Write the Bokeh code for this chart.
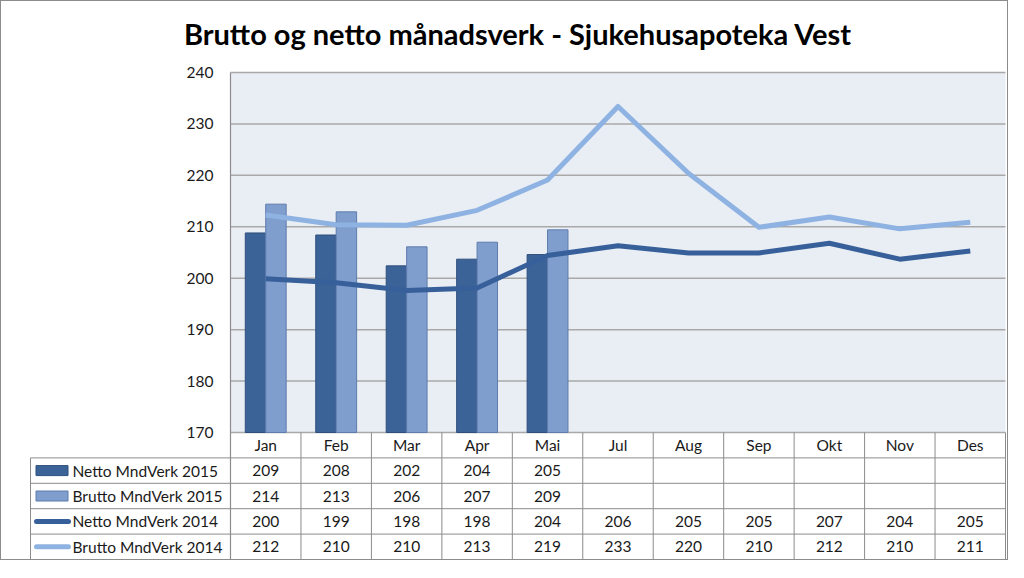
from bokeh.plotting import figure
from bokeh.models import Range1d
from bokeh.embed import file_html
from bokeh.resources import INLINE
from bokeh.core.properties import value

# ---------------- data ----------------
categories = ["Jan", "Feb", "Mar", "Apr", "Mai", "Jul", "Aug", "Sep", "Okt", "Nov", "Des"]
netto_2015 = [208.8, 208.4, 202.4, 203.7, 204.6]
brutto_2015 = [214.4, 212.9, 206.1, 207.0, 209.4]
netto_2014 = [199.9, 199.1, 197.6, 198.1, 204.4, 206.3, 204.9, 204.9, 206.8, 203.7, 205.3]
brutto_2014 = [212.3, 210.4, 210.3, 213.2, 219.1, 233.4, 220.4, 209.9, 211.9, 209.6, 210.9]
series_names = ["Netto MndVerk 2015", "Brutto MndVerk 2015", "Netto MndVerk 2014", "Brutto MndVerk 2014"]
y_ticks = [170, 180, 190, 200, 210, 220, 230, 240]
title_text = "Brutto og netto månadsverk - Sjukehusapoteka Vest"

# ---------------- style ----------------
FONT = "Lato"
C_NETTO_BAR = "#3C6398"
C_NETTO_BAR_LINE = "#2E4E7C"
C_BRUTTO_BAR = "#7F9DCD"
C_BRUTTO_BAR_LINE = "#5E7CAD"
C_NETTO_LINE = "#37609A"
C_BRUTTO_LINE = "#8EB3E2"
PLOT_BG = "#E9EDF4"
GRID = "#A9A9A9"
TABLE_LINE = "#8C8C8C"
TXT = "#1A1A1A"
FS = "15.5px"

W, H = 1008, 560
n = len(categories)
YMIN, YMAX = y_ticks[0], y_ticks[-1]
U = 775 / n                    # px per category
PX = 360 / (YMAX - YMIN)       # px per value unit
ROW = 25.4 / PX                # table row height in value units
LEG = 200 / U                  # legend column width in category units
TBOT = YMIN - 5 * ROW          # bottom of the data table
PADX = 2 / U

p = figure(width=W, height=H, output_backend="svg", toolbar_location=None,
           x_range=Range1d(-LEG - PADX, n + PADX),
           y_range=Range1d(TBOT - 1 / PX, YMAX + 10 / PX),
           min_border_left=27, min_border_right=2, min_border_top=61, min_border_bottom=1)
p.axis.visible = False
p.grid.visible = False
p.outline_line_color = None
p.background_fill_color = "white"
p.border_fill_color = "white"

p.title.text = title_text
p.title.text_font = FONT
p.title.text_font_size = "29px"
p.title.text_font_style = "bold"
p.title.text_color = "black"
p.title.align = "center"
p.title.standoff = 24

# plot area background
p.quad(left=[0], right=[n], bottom=[YMIN], top=[YMAX], fill_color=PLOT_BG, line_color=None)

# horizontal value grid
p.segment(x0=[0] * len(y_ticks), y0=y_ticks, x1=[n] * len(y_ticks), y1=y_ticks,
          line_color=GRID, line_width=1.5)
# value-axis tick labels
p.text(x=[-17 / U] * len(y_ticks), y=y_ticks, text=[str(v) for v in y_ticks],
       text_align="right", text_baseline="middle",
       text_font=value(FONT), text_font_size=value(FS), text_color=TXT)

x_cent = [i + 0.5 for i in range(n)]
OFF, BW = 0.145, 0.29
p.vbar(x=[x - OFF for x in x_cent[:len(netto_2015)]], top=netto_2015, bottom=YMIN, width=BW,
       fill_color=C_NETTO_BAR, line_color=C_NETTO_BAR_LINE, line_width=1)
p.vbar(x=[x + OFF for x in x_cent[:len(brutto_2015)]], top=brutto_2015, bottom=YMIN, width=BW,
       fill_color=C_BRUTTO_BAR, line_color=C_BRUTTO_BAR_LINE, line_width=1)
p.line(x=x_cent, y=netto_2014, line_color=C_NETTO_LINE, line_width=5, line_join="round")
p.line(x=x_cent, y=brutto_2014, line_color=C_BRUTTO_LINE, line_width=5, line_join="round")

# ---------------- data table ----------------
row_lines = [YMIN - k * ROW for k in range(1, 6)]
p.segment(x0=[-LEG] * 5, y0=row_lines, x1=[n] * 5, y1=row_lines, line_color=TABLE_LINE, line_width=1)
p.segment(x0=list(range(1, n + 1)), y0=[YMIN] * n, x1=list(range(1, n + 1)), y1=[TBOT] * n,
          line_color=TABLE_LINE, line_width=1)
p.segment(x0=[-LEG], y0=[YMIN - ROW], x1=[-LEG], y1=[TBOT], line_color=TABLE_LINE, line_width=1)
# value axis line (continues through the table)
p.segment(x0=[0], y0=[YMAX], x1=[0], y1=[TBOT], line_color=TABLE_LINE, line_width=1.2)

# header (category labels)
p.text(x=x_cent, y=[YMIN - 0.5 * ROW] * n, text=categories, text_align="center", text_baseline="middle",
       text_font=value(FONT), text_font_size=value(FS), text_color=TXT)

all_series = [netto_2015, brutto_2015, netto_2014, brutto_2014]
for r, vals in enumerate(all_series, start=1):
    p.text(x=x_cent[:len(vals)], y=[YMIN - (r + 0.5) * ROW] * len(vals),
           text=[f"{round(v)}" for v in vals],
           text_align="center", text_baseline="middle",
           text_font=value(FONT), text_font_size=value(FS), text_color=TXT)

# legend keys
row_mid = [YMIN - (r + 0.5) * ROW for r in range(1, 5)]
key_x = -LEG + 21.5 / U
p.rect(x=[key_x], y=[row_mid[0]], width=32, height=10, width_units="screen", height_units="screen",
       fill_color=C_NETTO_BAR, line_color=C_NETTO_BAR_LINE)
p.rect(x=[key_x], y=[row_mid[1]], width=32, height=10, width_units="screen", height_units="screen",
       fill_color=C_BRUTTO_BAR, line_color=C_BRUTTO_BAR_LINE)
p.segment(x0=[-LEG + 6 / U], y0=[row_mid[2]], x1=[-LEG + 38 / U], y1=[row_mid[2]],
          line_color=C_NETTO_LINE, line_width=5, line_cap="round")
p.segment(x0=[-LEG + 6 / U], y0=[row_mid[3]], x1=[-LEG + 38 / U], y1=[row_mid[3]],
          line_color=C_BRUTTO_LINE, line_width=5, line_cap="round")
p.text(x=[-LEG + 42 / U] * 4, y=row_mid, text=series_names,
       text_align="left", text_baseline="middle",
       text_font=value(FONT), text_font_size=value(FS), text_color=TXT)

p.styles = {"border": "1px solid #8C8C8C"}
open("out.html", "w").write(file_html(p, INLINE))
